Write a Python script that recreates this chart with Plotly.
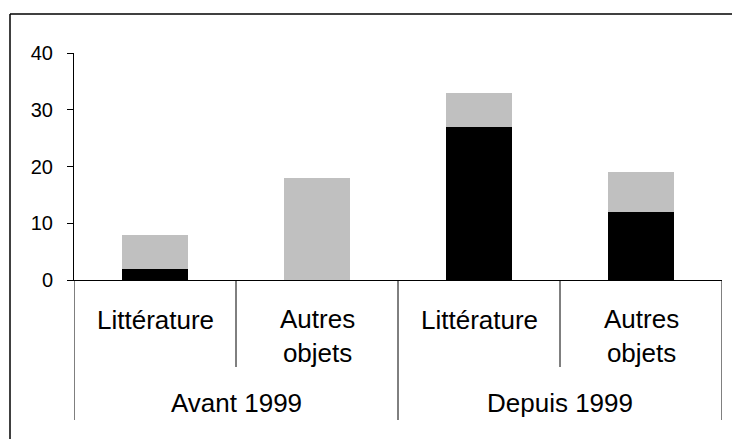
import plotly.graph_objects as go

groups = ["Avant 1999", "Avant 1999", "Depuis 1999", "Depuis 1999"]
subcats = ["Littérature", "Autres<br>objets", "Littérature", "Autres<br>objets"]
black_vals = [2, 0, 27, 12]
gray_vals = [6, 18, 6, 7]
y_ticks = [0, 10, 20, 30, 40]

cats = [f"{g}|{s}" for g, s in zip(groups, subcats)]

FONT = "Liberation Sans, Arial, sans-serif"

fig = go.Figure()
fig.add_trace(go.Bar(x=cats, y=black_vals, marker=dict(color="#000000", line=dict(width=0)), name="a"))
fig.add_trace(go.Bar(x=cats, y=gray_vals, marker=dict(color="#C0C0C0", line=dict(width=0)), name="b"))

# plot area pixel geometry: left 74, right 722, top 53, bottom 280
def py(p):
    return (280 - p) / 227.0

def px(p):
    return (p - 74) / 648.0

shapes = []
n = len(cats)
for i in range(n + 1):
    b = i - 0.5
    yb = py(420) if i in (0, 2, 4) else py(367)
    shapes.append(dict(type="line", xref="x", yref="paper", x0=b, x1=b, y0=0, y1=yb,
                       line=dict(color="black", width=1)))
# outer border (top and left)
shapes.append(dict(type="line", xref="paper", yref="paper", x0=px(10), x1=px(740), y0=py(14), y1=py(14),
                   line=dict(color="black", width=1.5)))
shapes.append(dict(type="line", xref="paper", yref="paper", x0=px(10), x1=px(10), y0=py(14), y1=py(450),
                   line=dict(color="black", width=1.5)))

annotations = []
for i, s in enumerate(subcats):
    yc = py(320) if "<br>" not in s else py(336)
    annotations.append(dict(text=s, x=i, xref="x", y=yc, yref="paper", showarrow=False,
                            xanchor="center", yanchor="middle",
                            font=dict(family=FONT, size=26, color="black")))
seen = []
for i, g in enumerate(groups):
    if g in seen:
        continue
    seen.append(g)
    idx = [j for j, gg in enumerate(groups) if gg == g]
    xc = (idx[0] + idx[-1]) / 2
    annotations.append(dict(text=g, x=xc, xref="x", y=py(403), yref="paper", showarrow=False,
                            xanchor="center", yanchor="middle",
                            font=dict(family=FONT, size=26, color="black")))

fig.update_layout(
    width=732, height=439,
    margin=dict(l=74, r=10, t=53, b=159),
    barmode="stack",
    bargap=0.593,
    showlegend=False,
    hovermode=False,
    plot_bgcolor="white", paper_bgcolor="white",
    font=dict(family=FONT, color="black"),
    shapes=shapes,
    annotations=annotations,
    xaxis=dict(showticklabels=False, showline=True, linecolor="black", linewidth=1,
               ticks="", showgrid=False, zeroline=False, range=[-0.5, n - 0.5]),
    yaxis=dict(range=[0, 40], tickvals=y_ticks, showline=True, linecolor="black", linewidth=1,
               ticks="outside", ticklen=6, tickcolor="black", showgrid=False, zeroline=False,
               tickfont=dict(family=FONT, size=20, color="black"), ticklabelstandoff=10),
)

fig.write_html("out.html", config={"displayModeBar": False},
               post_script="document.body.style.margin='0';document.body.style.overflow='hidden';")
